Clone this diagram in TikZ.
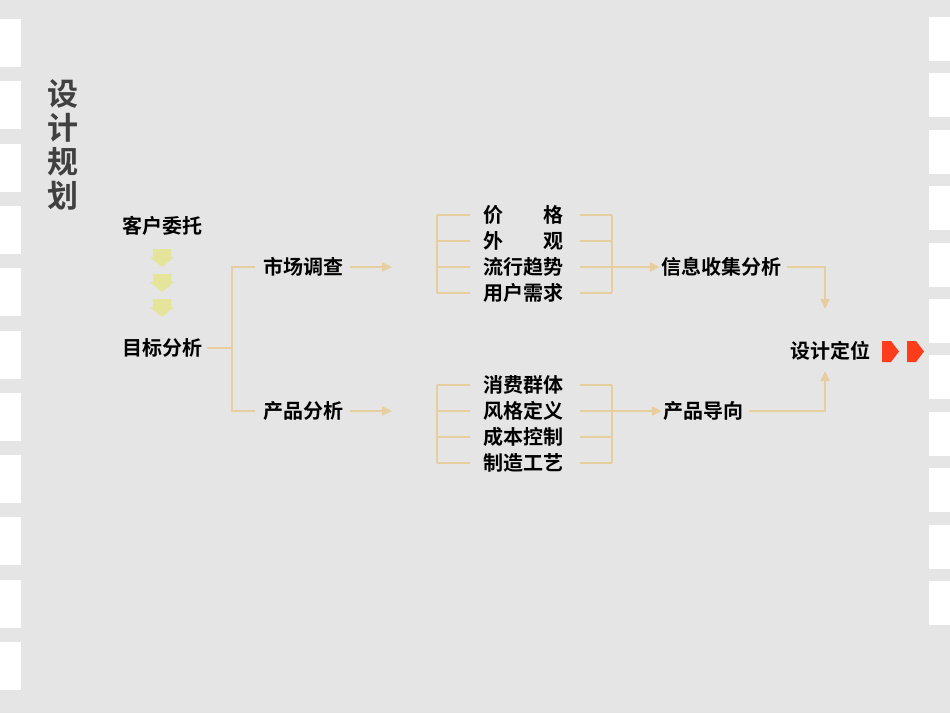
\documentclass[tikz,border=0pt]{standalone}
\usepackage{fontspec}
\newfontfamily\cjk{Noto Sans CJK SC Bold}
\usetikzlibrary{arrows.meta}
\definecolor{bg}{HTML}{E5E5E5}
\definecolor{tan}{HTML}{E6CE9E}
\definecolor{pale}{HTML}{E4E49A}
\definecolor{redar}{HTML}{FF3C1C}
\begin{document}
\begin{tikzpicture}[x=1pt,y=-1pt,
  lbl/.style={font=\cjk\fontsize{20}{20}\selectfont, text=black, inner sep=1pt},
  ln/.style={draw=tan, line width=2.2pt},
  arr/.style={ln, -{Triangle[length=10pt,width=9pt]}},
  hole/.style={fill=white, draw=none}]
\fill[bg] (0,0) rectangle (950,713);
\useasboundingbox (0,0) rectangle (950,713);
\foreach \i in {0,...,10} {
  \fill[hole] (0,{19+62.3*\i}) rectangle (21,{67+62.3*\i});
  \fill[hole] (929,{17+56.4*\i}) rectangle (950,{61+56.4*\i});
}
\node[font=\cjk\fontsize{31}{34}\selectfont, text=black!75, align=center] (title) at (63,145) {设\\计\\规\\划};
\node[lbl] (kh) at (162,226) {客户委托};
\foreach \y/\n in {257/a1,282/a2,307/a3}
  \fill[pale] (153,\y-8) -- (171,\y-8) -- (171,\y) -- (174,\y) -- (162,\y+10) -- (150,\y) -- (153,\y) -- cycle;
\node[lbl] (mb) at (162,348) {目标分析};
\node[lbl] (sc) at (303,267) {市场调查};
\node[lbl] (cp) at (303,411) {产品分析};
\coordinate (bj) at (232,348);
\draw[ln] (mb.east)++(4,0) -- (bj);
\draw[ln] (255,267) -- (232,267) -- (232,411) -- (255,411);
\coordinate (sa) at (392,267);
\coordinate (ca) at (392,411);
\draw[arr] (sc.east)++(6,0) -- (sa);
\draw[arr] (cp.east)++(6,0) -- (ca);
\foreach \y/\t/\n in {215/{价\hspace{40pt}格}/u1,241/{外\hspace{40pt}观}/u2,267/流行趋势/u3,293/用户需求/u4,385/消费群体/l1,411/风格定义/l2,437/成本控制/l3,463/制造工艺/l4}{
  \node[lbl] (\n) at (523,\y) {\t};
  \draw[ln] (437,\y) -- (470,\y);
  \draw[ln] (580,\y) -- (612,\y);
}
\draw[ln] (437,215) -- (437,293);
\draw[ln] (612,215) -- (612,293);
\draw[ln] (437,385) -- (437,463);
\draw[ln] (612,385) -- (612,463);
\node[lbl] (xx) at (721,267) {信息收集分析};
\node[lbl] (dx) at (703,411) {产品导向};
\node[lbl] (sj) at (830,351) {设计定位};
\draw[arr] (612,267) -- (xx.west);
\draw[arr] (612,411) -- (dx.west);
\draw[arr] (xx.east)++(5,0) -- (825,267) -- (825,309);
\draw[arr] (dx.east)++(5,0) -- (825,411) -- (825,371);
\foreach \x/\n in {882/r1,907/r2}
  \fill[redar] (\x,341) -- (\x+9,341) -- (\x+17,351.5) -- (\x+9,362) -- (\x,362) -- cycle;
\end{tikzpicture}
\end{document}
